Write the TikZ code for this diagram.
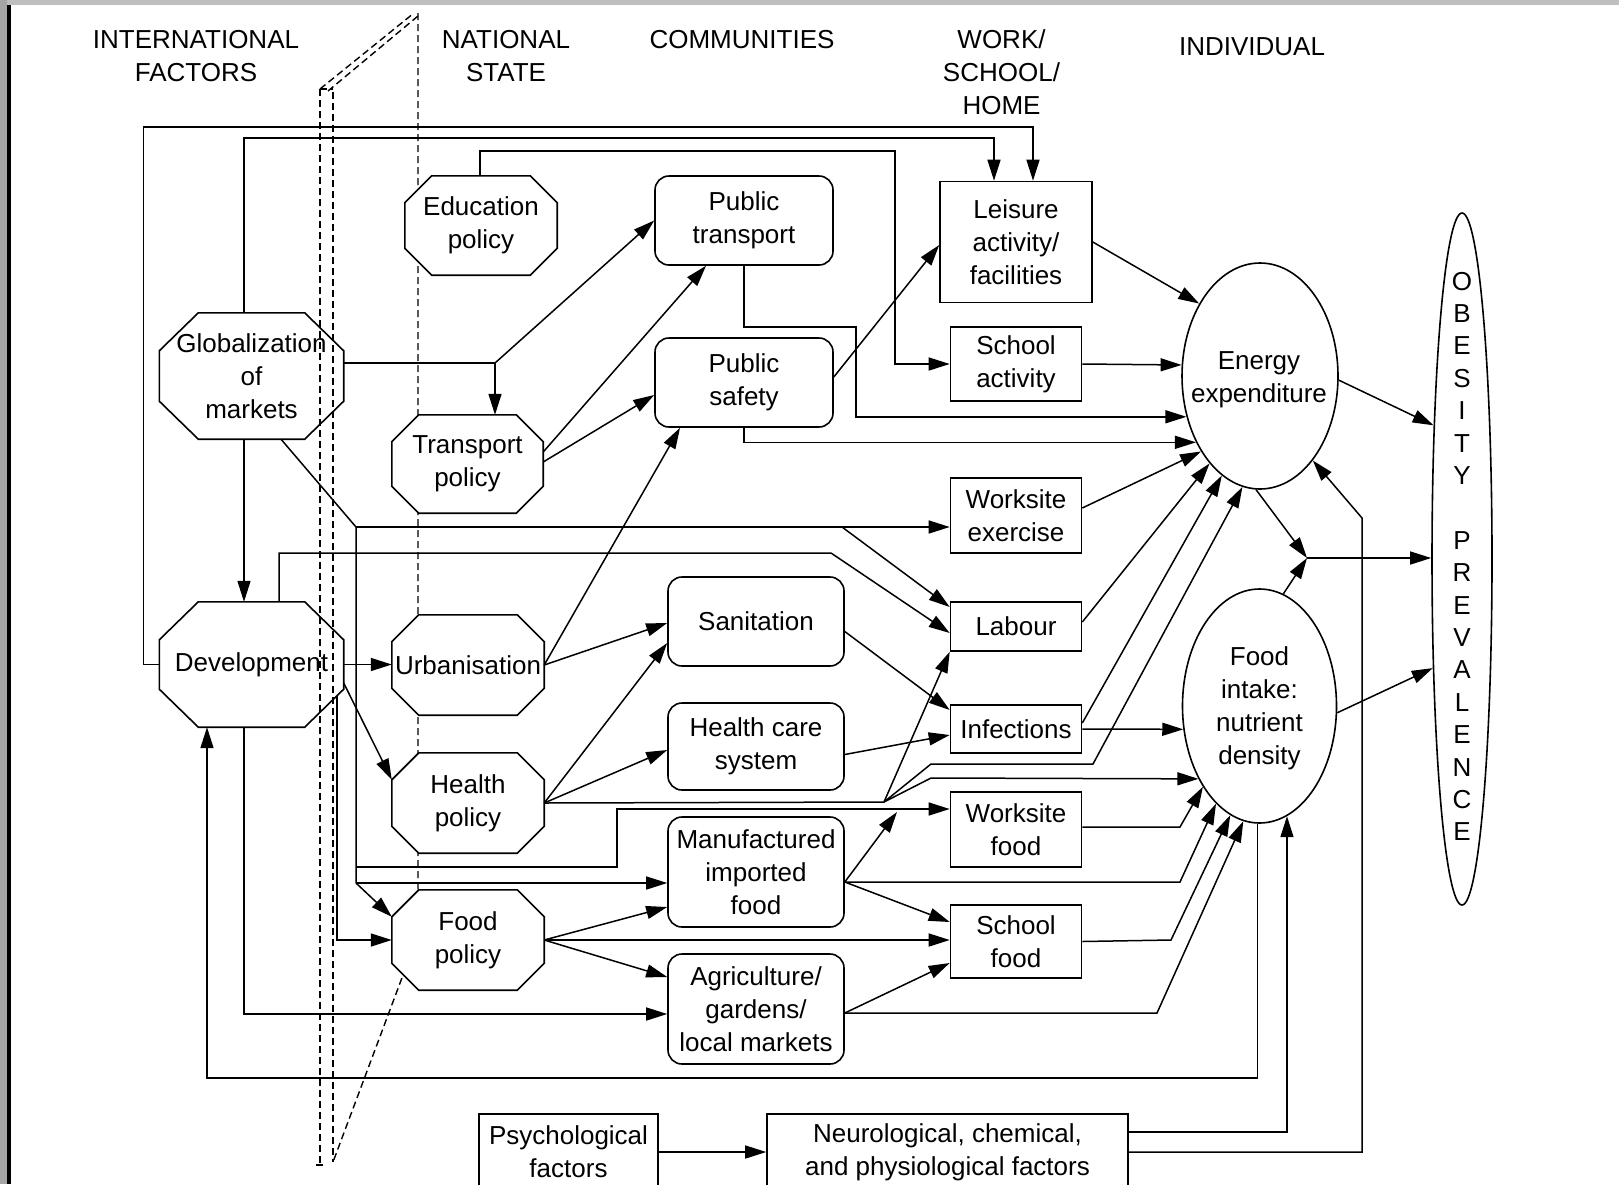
\documentclass[tikz,border=0pt]{standalone}
\usepackage{fontspec}
\setmainfont{Liberation Sans}
\usetikzlibrary{arrows.meta,shapes.geometric,calc}
\pgfdeclarelayer{bg}
\pgfdeclarelayer{mid}
\pgfsetlayers{bg,mid,main}

% octagon drawn around a plain rectangular node: [options]{node}{x cut}{y cut}
\newcommand\octpath[4][]{%
  \draw[octline,#1] ([xshift=#3]#2.north west) -- ([xshift=-#3]#2.north east)
    -- ([yshift=-#4]#2.north east) -- ([yshift=#4]#2.south east)
    -- ([xshift=-#3]#2.south east) -- ([xshift=#3]#2.south west)
    -- ([yshift=#4]#2.south west) -- ([yshift=-#4]#2.north west) -- cycle;}

\begin{document}
\begin{tikzpicture}[x=1pt,y=-1pt,
  every node/.style={inner sep=0pt, align=center, font=\fontsize{26pt}{33pt}\selectfont},
  octline/.style={line width=1.6pt, line join=miter},
  oct/.style={rectangle, minimum width=152pt, minimum height=100pt},
  cbox/.style={draw, line width=1.6pt, rounded corners=14pt, minimum width=176pt},
  wbox/.style={draw, line width=1.6pt, minimum width=131pt},
  oval/.style={draw, ellipse, line width=1.6pt},
  link/.style={line width=1.5pt},
  arr/.style={line width=1.5pt, -{Triangle[length=21pt,width=13pt]}},
  plane/.style={line width=1.4pt, dash pattern=on 7pt off 4pt},
  head/.style={}]

\useasboundingbox (0,0) rectangle (1619,1184);

% window frame
\begin{pgfonlayer}{bg}
  \fill[white] (0,0) rectangle (1619,1184);
  \fill[black!25] (0,0) rectangle (1619,5);
  \fill[black!35] (0,0) rectangle (7,1184);
  \fill[black] (7,5) rectangle (10.5,1184);
  % the dashed plane between international and national levels
  \draw[plane] (320,89) -- (320,1165);
  \draw[plane] (333,92) -- (333,1162);
  \draw[plane] (320,89) -- (333,89);
  \draw[plane] (320,89) -- (414,13);
  \draw[plane] (328,91) -- (418,16);
  \draw[plane] (418,13) -- (418,935) -- (333,1162);
  \draw[plane] (316,1165) -- (326,1165);
\end{pgfonlayer}

% column headings
\node[head] (hint) at (196,56) {INTERNATIONAL\\FACTORS};
\node[head] (hnat) at (506,56) {NATIONAL\\STATE};
\node[head] (hcom) at (742,40) {COMMUNITIES};
\node[head] (hwork) at (1001.5,72) {WORK/\\SCHOOL/\\HOME};
\node[head] (hind) at (1252,46.5) {INDIVIDUAL};

% international and national factors
\node[oct, minimum width=152pt, minimum height=99pt] (educ) at (481,225.5) {Education\\policy};
\node[oct, minimum width=184pt, minimum height=126pt] (glob) at (251.5,376) {Globalization\\of\\markets};
\node[oct, minimum width=151pt, minimum height=98pt] (trans) at (467.5,464) {Transport\\policy};
\node[oct, minimum width=184pt, minimum height=125pt] (devel) at (251.5,664.5) {Development};
\node[oct] (urb) at (468,665) {Urbanisation};
\node[oct] (health) at (468,803) {Health\\policy};
\node[oct] (fpol) at (468,940) {Food\\policy};

\octpath{glob}{39pt}{38pt}
\octpath{devel}{39pt}{38pt}
\begin{pgfonlayer}{mid}
  \octpath[fill=white]{educ}{27pt}{27pt}
  \octpath[fill=white]{trans}{27pt}{27pt}
  \octpath[fill=white]{urb}{27pt}{27pt}
  \octpath[fill=white]{health}{27pt}{27pt}
  \octpath[fill=white]{fpol}{27pt}{27pt}
\end{pgfonlayer}

% communities
\node[cbox, minimum width=178pt, minimum height=89pt] (ptran) at (744,220.5) {Public\\transport};
\node[cbox, minimum width=178pt, minimum height=89pt] (psafe) at (744,382.5) {Public\\safety};
\node[cbox, minimum height=89pt] (san) at (756,621.5) {Sanitation};
\node[cbox, minimum height=87pt] (hcare) at (756,746.5) {Health care\\system};
\node[cbox, minimum height=110pt] (manu) at (756,872) {Manufactured\\imported\\food};
\node[cbox, minimum height=110pt] (agri) at (756,1009) {Agriculture/\\gardens/\\local markets};

% work / school / home
\node[wbox, minimum width=152pt, minimum height=121pt] (leis) at (1016,242) {Leisure\\activity/\\facilities};
\node[wbox, minimum height=74pt] (sact) at (1016,364) {School\\activity};
\node[wbox, minimum height=75pt] (wex) at (1016,515.5) {Worksite\\exercise};
\node[wbox, minimum height=49pt] (labour) at (1016,626.5) {Labour};
\node[wbox, minimum height=48pt] (inf) at (1016,729) {Infections};
\node[wbox, minimum height=75pt] (wfood) at (1016,829.5) {Worksite\\food};
\node[wbox, minimum height=73pt] (sfood) at (1016,941.5) {School\\food};

% individual
\node[oval, minimum width=156pt, minimum height=226pt] (energy) at (1260,376) {};
\node (energyt) at (1259,380) {Energy\\expenditure};
\node[oval, minimum width=154pt, minimum height=234pt] (food) at (1259.5,706) {};
\node (foodt) at (1259.5,708) {Food\\intake:\\nutrient\\density};
\node[oval, minimum width=60pt, minimum height=692pt] (obes) at (1462,559) {};
\node[font=\fontsize{26pt}{32.4pt}\selectfont] (obest) at (1462,556.5)
  {O\\B\\E\\S\\I\\T\\Y\\~\\P\\R\\E\\V\\A\\L\\E\\N\\C\\E};

% bottom row
\node[wbox, minimum width=179pt, minimum height=76pt] (psych) at (568.5,1152) {Psychological\\factors};
\node[wbox, minimum width=361pt, minimum height=76pt] (neuro) at (947.5,1152) {Neurological, chemical,\\and physiological factors};

% bends and junctions
\coordinate (c1) at (1033,127);
\coordinate (c2) at (994,138);
\coordinate (c3) at (895,151);
\coordinate (jt) at (495,363);
\coordinate (kg) at (356,527);
\coordinate (kg3) at (356,867);
\coordinate (kg2) at (356,883);
\coordinate (kw4) at (617,809);
\coordinate (k7) at (842,527);
\coordinate (kd) at (831,553);
\coordinate (kd2) at (337,696);
\coordinate (k8) at (856,327);
\coordinate (jh) at (884,802);
\coordinate (k4) at (931,764);
\coordinate (k5) at (1093,764);
\coordinate (k6) at (931,778);
\coordinate (kw) at (1180,827);
\coordinate (km) at (1180,882);
\coordinate (ksf) at (1171,940);
\coordinate (kag) at (1157,1013);
\coordinate (kmw) at (897,812);
\coordinate (kn) at (1362,518);
\coordinate (jn) at (1307,558);
\coordinate (fb) at (207,1078);

% international level
\draw[arr] (devel.west) -- ++(-16,0) |- (c1) -- (c1 |- leis.north);
\draw[arr] ([xshift=-7.5pt]glob.north) |- (c2) -- (c2 |- leis.north);
\draw[arr] ([xshift=-7.5pt]glob.south) -- ([xshift=-7.5pt]devel.north);
\draw[arr] ([xshift=-7.5pt]devel.south) |- ([yshift=-5pt]agri.west);
\draw[link] ([yshift=13pt]glob.east) -- (jt);
\draw[arr] (jt) -- (jt |- trans.north);
\draw[arr] (jt) -- (ptran.west);
\draw[link] ([xshift=29.5pt]glob.south) -- (kg) -- (kg2);
\draw[arr] (kg) -- (kg -| wex.west);
\draw[arr] (k7) -- ([yshift=19.5pt]labour.west);
\draw[arr] (kg2) -- ([yshift=-27pt]fpol.north west);
\draw[arr] (kg3) -| (kw4) -- (kw4 -| wfood.west);
\draw[arr] (kg2) -- (kg2 -| manu.west);
\draw[arr] ([xshift=27.5pt]devel.north) |- (kd) -- ([yshift=-6.5pt]labour.west);
\draw[arr] (kd2) |- (fpol.west);
\draw[arr] (devel.east) -- (devel.east -| urb.west);
\draw[arr] ([yshift=-18.5pt]devel.east) -- ([yshift=-27pt]health.north west);

% national level
\draw[arr] ([xshift=-1pt]educ.north) |- (c3) |- (sact.west);
\draw[arr] ([yshift=12pt]trans.east) -- ([xshift=-38pt]ptran.south);
\draw[arr] ([yshift=2pt]trans.east) -- ([yshift=-12.5pt]psafe.west);
\draw[arr] (urb.east) -- ([xshift=-64pt]psafe.south);
\draw[arr] (urb.east) -- ([yshift=-1.5pt]san.west);
\draw[arr] (health.east) -- ([yshift=-21.5pt]san.west);
\draw[arr] (health.east) -- ([yshift=-3.5pt]hcare.west);
\draw[link] (health.east) -- (jh);
\draw[arr] (jh) -- (labour.south west);
\draw[arr] (jh) -- (k4) -- (k5) -- (energy.261);
\draw[arr] (jh) -- (k6) -- (food.230);
\draw[arr] (fpol.east) -- ([yshift=-35pt]manu.west);
\draw[arr] (fpol.east) -- (fpol.east -| sfood.west);
\draw[arr] (fpol.east) -- ([yshift=32pt]agri.west);

% communities
\draw[arr] (ptran.south) |- (k8) |- (energy.209);
\draw[arr] (psafe.south) |- (energy.226);
\draw[arr] ([yshift=5.5pt]psafe.east) -- ([yshift=-3pt]leis.west);
\draw[arr] ([yshift=-10pt]san.east) -- ([yshift=19pt]inf.west);
\draw[arr] ([yshift=-8pt]hcare.east) -- ([yshift=-6pt]inf.west);
\draw[arr] ([yshift=-10pt]manu.east) -- (km) -- (food.246);
\draw[arr] ([yshift=-10pt]manu.east) -- (kmw);
\draw[arr] ([yshift=-10pt]manu.east) -- ([yshift=19.5pt]sfood.west);
\draw[arr] ([yshift=-4pt]agri.east) -- ([yshift=-21.5pt]sfood.west);
\draw[arr] ([yshift=-4pt]agri.east) -- (kag) -- (food.262);

% work / school / home
\draw[arr] (leis.east) -- (energy.130);
\draw[arr] (sact.east) -- (energy.172);
\draw[arr] ([yshift=7.5pt]wex.east) -- (energy.232);
\draw[arr] ([yshift=4.5pt]labour.east) -- (energy.240);
\draw[arr] ([yshift=6pt]inf.east) -- (energy.249);
\draw[arr] (inf.east) -- (food.197);
\draw[arr] ([yshift=2.5pt]wfood.east) -- (kw) -- (food.235);
\draw[arr] (sfood.east) -- (ksf) -- (food.255);

% individual and feedback
\draw[arr] (psych.east) -- (neuro.west);
\draw[arr] ([yshift=20pt]neuro.east) -| (food.284);
\draw[arr] (neuro.east) -| (kn) -- (energy.302);
\draw[arr] (energy.357) -- (obes.102);
\draw[arr] (energy.268) -- (jn);
\draw[arr] (food.78) -- (jn);
\draw[arr] (jn) -- (jn -| obes.west);
\draw[arr] (food.355) -- (obes.255);
\draw[arr] (food.269) |- (fb) -- (fb |- devel.south);

\end{tikzpicture}
\end{document}
